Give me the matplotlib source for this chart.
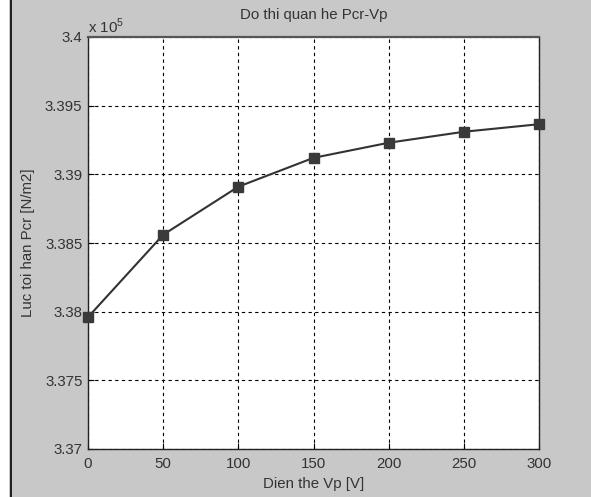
import matplotlib
matplotlib.use("Agg")
import matplotlib.pyplot as plt
from matplotlib.ticker import FuncFormatter
from matplotlib.patches import Rectangle
from matplotlib.lines import Line2D

plt.rcParams['font.family'] = ['Liberation Sans', 'DejaVu Sans']
plt.rcParams['mathtext.fontset'] = 'custom'
plt.rcParams['mathtext.rm'] = 'Liberation Sans'

vp = [0, 50, 100, 150, 200, 250, 300]
pcr = [337960, 338560, 338910, 339120, 339230, 339310, 339365]
x_ticks = [0, 50, 100, 150, 200, 250, 300]
y_ticks = [3.37, 3.375, 3.38, 3.385, 3.39, 3.395, 3.4]

bg = '#c8c8c8'
txt = '#333333'
fs = 10.8
fig = plt.figure(figsize=(5.91, 4.97), dpi=100, facecolor=bg)
fig.patches.append(Rectangle((0, 0), 9.5/591, 1, transform=fig.transFigure,
                             facecolor='white', edgecolor='none', zorder=0))
fig.lines.append(Line2D([10.5/591, 10.5/591], [0, 1], transform=fig.transFigure,
                        color='black', lw=1.2))

ax = fig.add_axes([88/591, 1-449/497, 451/591, 412/497])
ax.set_facecolor('white')
ax.plot(vp, [p/1e5 for p in pcr], color='#333333', lw=1.5, marker='s',
        markersize=6.5, markerfacecolor='#3a3a3a', markeredgecolor='#3a3a3a',
        clip_on=False, zorder=3)
ax.set_xlim(0, 300)
ax.set_ylim(3.37, 3.4)
ax.set_xticks(x_ticks)
ax.set_yticks(y_ticks)
ax.yaxis.set_major_formatter(FuncFormatter(lambda v, p: '%g' % round(v, 4)))
ax.grid(True, color='black', linestyle=(0, (3, 3)), lw=0.8)
ax.tick_params(direction='in', length=4, labelsize=fs, colors='black',
               labelcolor=txt)
ax.tick_params(axis='x', pad=6)
ax.tick_params(axis='y', pad=4)
for s in ax.spines.values():
    s.set_color('#222222')
    s.set_linewidth(1.0)
ax.spines['top'].set_color('#555555')
ax.spines['top'].set_linewidth(1.6)

ax.set_title('Do thi quan he Pcr-Vp', fontsize=fs, color=txt, pad=13)
ax.set_xlabel('Dien the Vp [V]', fontsize=fs, color=txt, labelpad=4)
ax.set_ylabel('Luc toi han Pcr [N/m2]', fontsize=fs, color=txt, labelpad=7)
ax.text(0.0, 1.01, r'x 10$^{5}$', transform=ax.transAxes, fontsize=fs,
        color=txt, ha='left', va='baseline')

fig.savefig('out.png', dpi=100, facecolor=bg)
